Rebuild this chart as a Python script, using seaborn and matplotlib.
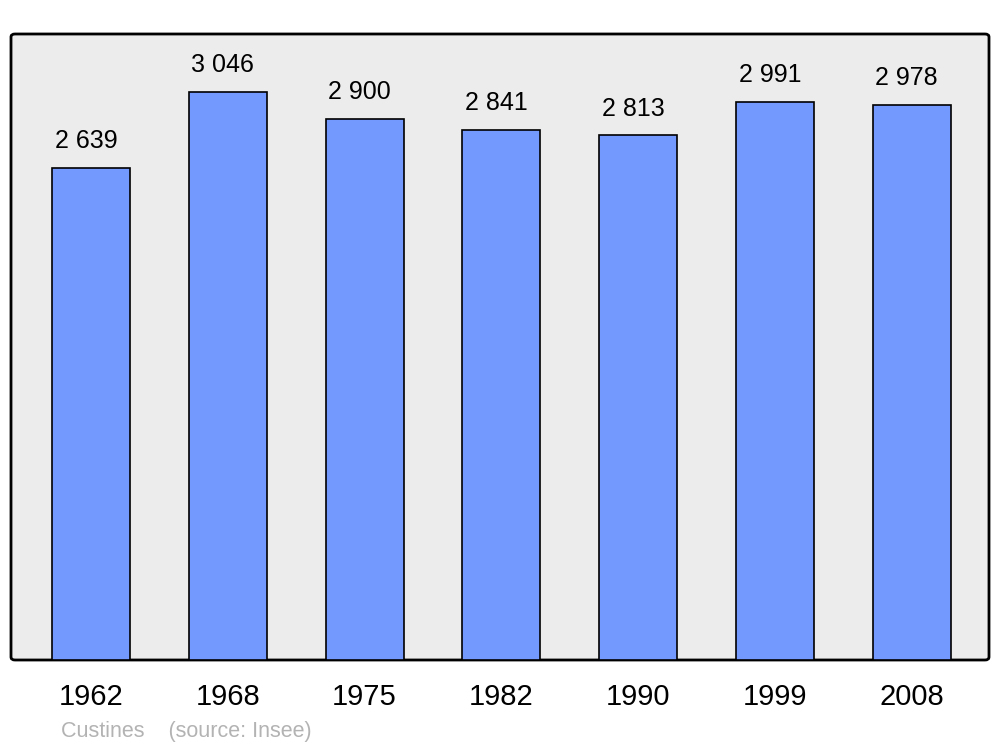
import numpy as np
import pandas as pd
import matplotlib
matplotlib.use('Agg')
import matplotlib.pyplot as plt
import seaborn as sns
from matplotlib.patches import FancyBboxPatch

# population data
years = ['1962', '1968', '1975', '1982', '1990', '1999', '2008']
population = [2639, 3046, 2900, 2841, 2813, 2991, 2978]
town = 'Custines'
source = '(source: Insee)'

df = pd.DataFrame({'year': years, 'population': population})

sns.set_style('white')
plt.rcParams['font.family'] = ['Liberation Sans', 'DejaVu Sans']

fig = plt.figure(figsize=(10, 7.47), dpi=100)
ax = fig.add_axes([0.011, 1 - 660 / 747, 0.978, (660 - 34) / 747])
ax.set_facecolor('none')

# rounded gray frame behind the plot
frame = FancyBboxPatch((0.011, 1 - 660 / 747), 0.978, (660 - 34) / 747,
                       boxstyle='round,pad=0,rounding_size=0.004',
                       transform=fig.transFigure, facecolor='#ececec',
                       edgecolor='black', linewidth=2, zorder=-1)
fig.patches.append(frame)

sns.barplot(data=df, x='year', y='population', color='#7399ff', width=0.57,
            edgecolor='black', linewidth=1.2, saturation=1, ax=ax, zorder=2)

# value labels above the bars (slightly left of centre, as in the original)
for i, v in enumerate(population):
    ax.text(i - 0.037, v + 80, f'{v:,}'.replace(',', ' '), ha='center',
            va='bottom', fontsize=18, color='black')

ax.set_xlim(-0.585, 6.565)
ax.set_ylim(0, 3357)
for s in ax.spines.values():
    s.set_visible(False)
ax.set_yticks([])
ax.set_xlabel('')
ax.set_ylabel('')
ax.tick_params(axis='x', length=0, pad=16.5, labelsize=21, labelcolor='black')

fig.text(0.061, 1 - 731 / 747, town + '    ' + source, color='#b3b3b3',
         fontsize=15.5, ha='left', va='center')

fig.savefig('out.png', dpi=100)
